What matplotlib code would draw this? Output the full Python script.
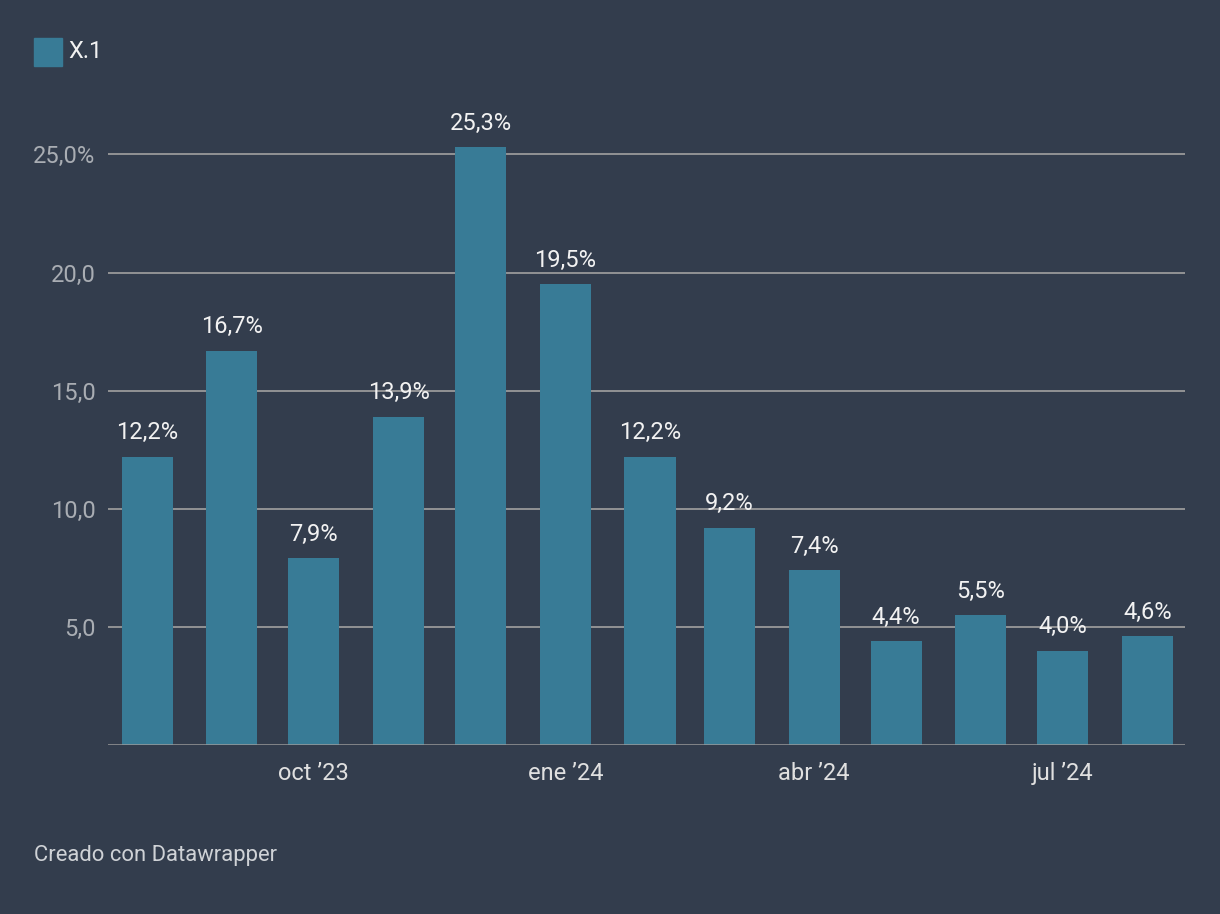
import datetime as dt
import matplotlib.pyplot as plt
import matplotlib.dates as mdates
from matplotlib.patches import Rectangle

plt.rcParams['font.family'] = ['Roboto', 'DejaVu Sans']

months = [dt.date(2023, m, 15) for m in range(8, 13)] + [dt.date(2024, m, 15) for m in range(1, 9)]
values = [12.2, 16.7, 7.9, 13.9, 25.3, 19.5, 12.2, 9.2, 7.4, 4.4, 5.5, 4.0, 4.6]
series_name = 'X.1'
yticks = [5, 10, 15, 20, 25]
ytick_labels = ['5,0', '10,0', '15,0', '20,0', '25,0%']
xtick_dates = [dt.date(2023, 10, 15), dt.date(2024, 1, 15), dt.date(2024, 4, 15), dt.date(2024, 7, 15)]
xtick_labels = ['oct \u201923', 'ene \u201924', 'abr \u201924', 'jul \u201924']

bg = '#333d4d'
bar_color = '#387b96'

fig = plt.figure(figsize=(12.2, 9.14), dpi=100, facecolor=bg)
ax = fig.add_axes([108 / 1220, 169 / 914, 1077 / 1220, 626 / 914])
ax.set_facecolor(bg)

x = mdates.date2num(months)
ax.bar(x + 0.3, values, width=18.7, color=bar_color, zorder=2)

for xi, v in zip(x, values):
    ax.annotate(f'{v:.1f}%'.replace('.', ','), (xi + 0.3, v), xytext=(0, 9), textcoords='offset points',
                ha='center', va='bottom', color='#f2f2f2', fontsize=17)

ax.set_xlim(mdates.date2num(dt.date(2023, 8, 1)), mdates.date2num(dt.date(2024, 8, 29)))
ax.set_ylim(0, 26.5)

for y in yticks:
    ax.axhline(y, color='#9a9a9a', lw=1.3, zorder=1)
ax.axhline(0, color='#9a9a9a', lw=1.8, zorder=3)

ax.set_yticks(yticks)
ax.set_yticklabels(ytick_labels)
ax.set_xticks(mdates.date2num(xtick_dates) + 0.3)
ax.set_xticklabels(xtick_labels)
ax.tick_params(axis='y', length=0, pad=9, labelsize=17, labelcolor='#a9adb3')
ax.tick_params(axis='x', length=0, pad=12, labelsize=17, labelcolor='#e0e0e0')
for s in ax.spines.values():
    s.set_visible(False)

# legend
fig.patches.append(Rectangle((34 / 1220, 1 - 66 / 914), 28 / 1220, 28 / 914,
                             transform=fig.transFigure, color=bar_color))
fig.text(68 / 1220, 1 - 52 / 914, series_name, color='#f2f2f2', fontsize=17, va='center')

fig.text(34 / 1220, 1 - 855 / 914, 'Creado con Datawrapper', color='#cfd2d6', fontsize=15.8, va='center')

fig.savefig('out.png', dpi=100, facecolor=bg)
